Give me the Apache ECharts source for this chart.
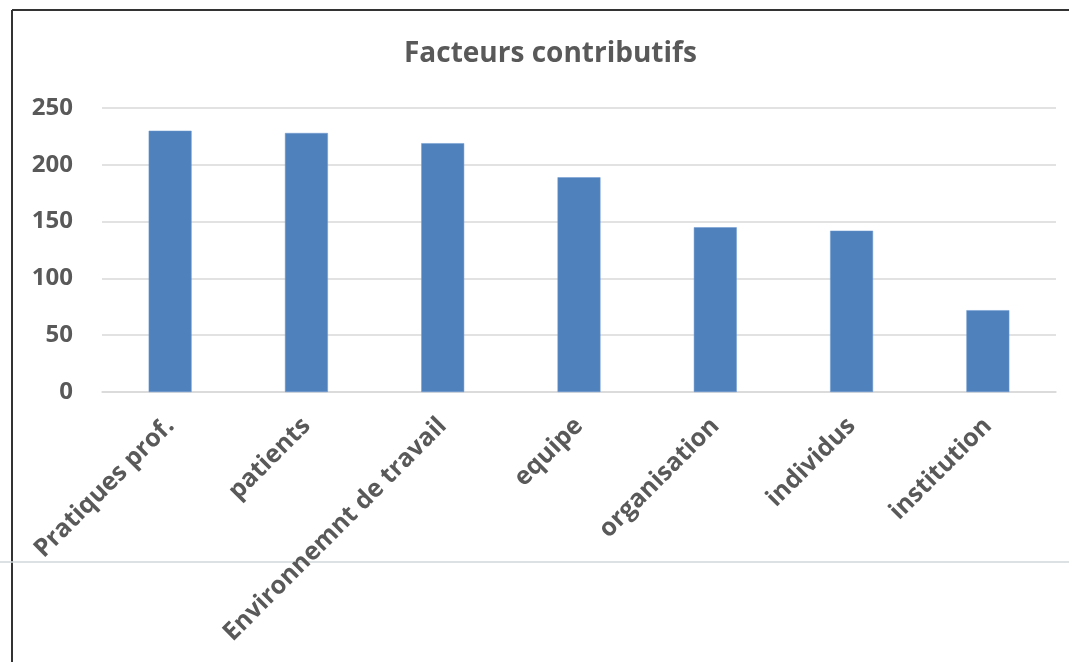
<!DOCTYPE html>
<html>
<head>
<meta charset="utf-8">
<script src="https://cdn.jsdelivr.net/npm/echarts@6/dist/echarts.min.js"></script>
<style>
  html, body { margin: 0; padding: 0; background: #ffffff; }
  #chart { width: 1069px; height: 662px; }
</style>
</head>
<body>
<div id="chart"></div>
<script>
// Contributing factors: counts per category
const categories = ['Pratiques prof.', 'patients', 'Environnemnt de travail', 'equipe', 'organisation', 'individus', 'institution'];
const counts = [230, 228, 219, 189, 145, 142, 72];
const yTicks = { min: 0, max: 250, interval: 50 };

const chart = echarts.init(document.getElementById('chart'), null, { renderer: 'canvas' });
const textColor = '#595959';
const font = '"Open Sans", "Noto Sans", sans-serif';

chart.setOption({
  animation: false,
  backgroundColor: '#ffffff',
  title: {
    text: 'Facteurs contributifs',
    left: 399,
    top: 35,
    textStyle: { fontFamily: font, fontWeight: 'bold', fontSize: 28, color: textColor }
  },
  grid: { left: 102, right: 13, top: 108, bottom: 270, containLabel: false },
  xAxis: {
    type: 'category',
    data: categories,
    axisLine: { lineStyle: { color: '#d9d9d9', width: 1.5 } },
    axisTick: { show: false },
    axisLabel: {
      rotate: 45,
      interval: 0,
      margin: 30,
      fontFamily: font,
      fontWeight: 'bold',
      fontSize: 25,
      color: textColor
    }
  },
  yAxis: {
    type: 'value',
    min: yTicks.min,
    max: yTicks.max,
    interval: yTicks.interval,
    axisLine: { show: false },
    axisTick: { show: false },
    splitLine: { lineStyle: { color: '#d9d9d9', width: 1.5 } },
    axisLabel: {
      margin: 29,
      fontFamily: font,
      fontWeight: 'bold',
      fontSize: 24,
      color: textColor
    }
  },
  series: [{
    type: 'bar',
    data: counts,
    barWidth: '31.5%',
    itemStyle: { color: '#4f81bd', borderColor: '#6f9bd1', borderWidth: 0.5 }
  }],
  graphic: [
    { type: 'line', shape: { x1: 12, y1: 10, x2: 1069, y2: 10 }, style: { stroke: '#333333', lineWidth: 2 }, silent: true },
    { type: 'line', shape: { x1: 12, y1: 10, x2: 12, y2: 662 }, style: { stroke: '#333333', lineWidth: 2 }, silent: true },
    { type: 'line', shape: { x1: 0, y1: 562, x2: 1069, y2: 562 }, style: { stroke: '#d0d8da', lineWidth: 1.5 }, silent: true }
  ]
});
</script>
</body>
</html>
